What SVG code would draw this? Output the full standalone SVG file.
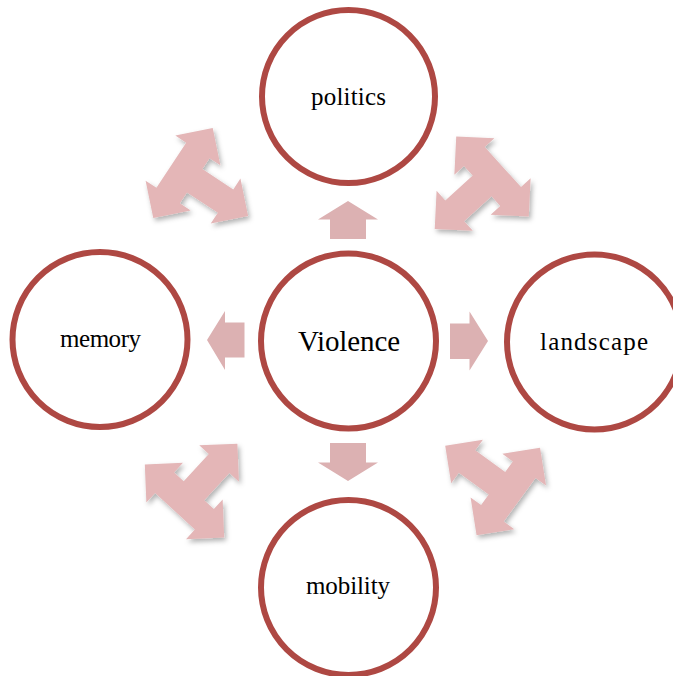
<svg xmlns="http://www.w3.org/2000/svg" width="673" height="676" viewBox="0 0 673 676">
  <style>
    .node circle { fill: #ffffff; stroke: #AE4843; stroke-width: 6; }
    .lbl { font-family: "Liberation Serif", "Times New Roman", serif; font-size: 25px; fill: #000000; text-anchor: middle; }
    .big { font-size: 29px; }
    .straight { fill: #DCB1B2; }
    .diag { fill: #E4B6B7; }
  </style>
  <defs>
    <filter id="shadow" x="-30%" y="-30%" width="160%" height="160%">
      <feDropShadow dx="2" dy="3" stdDeviation="2.5" flood-color="#000000" flood-opacity="0.3"/>
    </filter>
    <path id="tri" d="M54,0 L27,-27 L27,-14 L-27,-14 L-27,-27 L-54,0 L-27,27 L-27,14 L-14,14 L-14,51 L-27,51 L0,78 L27,51 L14,51 L14,14 L27,14 L27,27 Z"/>
  </defs>

  <g id="connectors">
    <polygon class="straight" points="330,239 330,219.5 318,219.5 348,201 378,219.5 366,219.5 366,239"/>
    <polygon class="straight" points="330,443 330,462.5 318,462.5 348,481 378,462.5 366,462.5 366,443"/>
    <polygon class="straight" points="244.5,322.5 225,322.5 225,311 207,340 225,370 225,357.5 244.5,357.5"/>
    <polygon class="straight" points="450,323.5 469.5,323.5 469.5,311.5 488,341 469.5,370.5 469.5,359 450,359"/>
    <g filter="url(#shadow)"><use href="#tri" class="diag" transform="translate(183,173) rotate(-56.6)"/></g>
    <g filter="url(#shadow)"><use href="#tri" class="diag" transform="translate(492.5,176.5) rotate(47.8)"/></g>
    <g filter="url(#shadow)"><use href="#tri" class="diag" transform="translate(184.5,501) rotate(222.7)"/></g>
    <g filter="url(#shadow)"><use href="#tri" class="diag" transform="translate(508.3,491.5) rotate(126)"/></g>
  </g>

  <g id="politics" class="node">
    <circle cx="348.5" cy="96.5" r="86.5"/>
    <text class="lbl" x="348.5" y="105" textLength="75" lengthAdjust="spacing">politics</text>
  </g>
  <g id="violence" class="node">
    <circle cx="348.5" cy="341" r="87.5"/>
    <text class="lbl big" x="349" y="351" textLength="102" lengthAdjust="spacing">Violence</text>
  </g>
  <g id="memory" class="node">
    <circle cx="100" cy="339.5" r="87.5"/>
    <text class="lbl" x="100.5" y="347" textLength="81" lengthAdjust="spacing">memory</text>
  </g>
  <g id="landscape" class="node">
    <circle cx="594.5" cy="342" r="87.5"/>
    <text class="lbl" x="594" y="350" textLength="108" lengthAdjust="spacing">landscape</text>
  </g>
  <g id="mobility" class="node">
    <circle cx="348.5" cy="587.5" r="87.5"/>
    <text class="lbl" x="348" y="594" textLength="84" lengthAdjust="spacing">mobility</text>
  </g>
</svg>
